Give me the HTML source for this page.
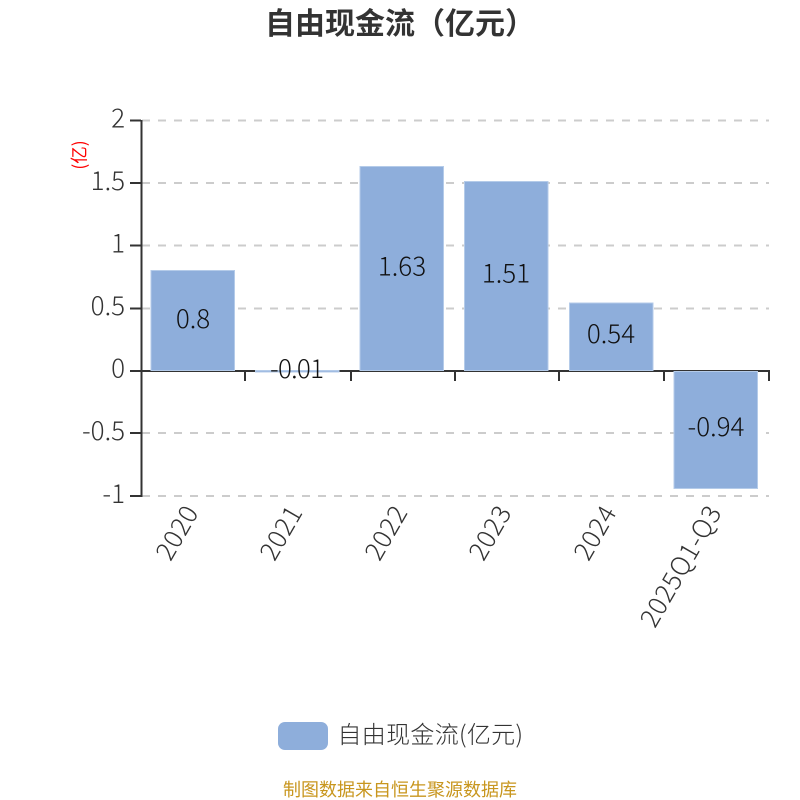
<!DOCTYPE html>
<html><head><meta charset="utf-8"><style>
html,body{margin:0;padding:0;background:#fff}
svg{display:block}
text{font-family:"Liberation Sans","Noto Sans CJK SC",sans-serif}
.n{font-family:"Noto Sans CJK SC",sans-serif;font-size:26px;fill:#333;font-weight:300}
.l{font-family:"Noto Sans CJK SC",sans-serif;font-size:26px;fill:#111;font-weight:300}
.x{letter-spacing:.6px}
</style></head><body>
<svg width="800" height="800" viewBox="0 0 800 800" xmlns="http://www.w3.org/2000/svg">
<rect width="800" height="800" fill="#fff"/>
<text x="400" y="34" text-anchor="middle" style="font-family:'Noto Sans CJK SC',sans-serif;font-size:30px;font-weight:700" fill="#333">自由现金流（亿元）</text>
<g stroke="#ccc" stroke-width="2" stroke-dasharray="8 8">
<line x1="142" x2="769" y1="120.5" y2="120.5"/>
<line x1="142" x2="769" y1="183" y2="183"/>
<line x1="142" x2="769" y1="245.5" y2="245.5"/>
<line x1="142" x2="769" y1="308.5" y2="308.5"/>
<line x1="142" x2="769" y1="433" y2="433"/>
<line x1="142" x2="769" y1="496" y2="496"/>
</g>
<g stroke="#333" stroke-width="2" fill="none">
<line x1="141.5" x2="141.5" y1="120" y2="497"/>
<line x1="130" x2="141" y1="120.5" y2="120.5"/>
<line x1="130" x2="141" y1="183" y2="183"/>
<line x1="130" x2="141" y1="245.5" y2="245.5"/>
<line x1="130" x2="141" y1="308.5" y2="308.5"/>
<line x1="130" x2="141" y1="371" y2="371"/>
<line x1="130" x2="141" y1="433" y2="433"/>
<line x1="130" x2="141" y1="496" y2="496"/>
<line x1="141" x2="770" y1="371" y2="371"/>
<line x1="245" x2="245" y1="371" y2="381"/>
<line x1="351" x2="351" y1="371" y2="381"/>
<line x1="455" x2="455" y1="371" y2="381"/>
<line x1="559" x2="559" y1="371" y2="381"/>
<line x1="664" x2="664" y1="371" y2="381"/>
<line x1="769" x2="769" y1="371" y2="381"/>
</g>
<g fill="#8eaedb" stroke="#b4cbe9" stroke-width="1">
<rect x="151" y="270.5" width="83.5" height="100"/>
<rect x="255.5" y="370.5" width="83.5" height="1.5"/>
<rect x="360" y="166.5" width="83.5" height="204"/>
<rect x="464.5" y="181.5" width="83.5" height="189"/>
<rect x="569.5" y="303" width="83.5" height="67.5"/>
<rect x="674" y="371.5" width="83.5" height="117"/>
</g>
<g text-anchor="end">
<text class="n" x="125" y="127.5">2</text>
<text class="n" x="125" y="190">1.5</text>
<text class="n" x="125" y="252.5">1</text>
<text class="n" x="125" y="315">0.5</text>
<text class="n" x="125" y="377.5">0</text>
<text class="n" x="125" y="440">-0.5</text>
<text class="n" x="125" y="503">-1</text>
</g>
<text transform="translate(85.5,155) rotate(-90)" text-anchor="middle" style="font-family:'Noto Sans CJK SC',sans-serif;font-size:17.5px" fill="#f00">(亿)</text>
<g text-anchor="middle">
<text class="l" x="193" y="328">0.8</text>
<text class="l" x="270" y="378" text-anchor="start" textLength="54" lengthAdjust="spacing">-0.01</text>
<text class="l" x="402" y="275.5">1.63</text>
<text class="l" x="506" y="282.5">1.51</text>
<text class="l" x="611" y="343">0.54</text>
<text class="l" x="716" y="436">-0.94</text>
</g>
<g text-anchor="end">
<text class="n x" transform="translate(199.5,512) rotate(-60)">2020</text>
<text class="n x" transform="translate(303.5,512) rotate(-60)">2021</text>
<text class="n x" transform="translate(408.5,512) rotate(-60)">2022</text>
<text class="n x" transform="translate(512.5,512) rotate(-60)">2023</text>
<text class="n x" transform="translate(617.5,512) rotate(-60)">2024</text>
<text class="n x" transform="translate(722.5,512) rotate(-60)">2025Q1-Q3</text>
</g>
<rect x="278" y="722" width="50" height="28" rx="7" fill="#8eaedb"/>
<text x="337.5" y="743" style="font-family:'Noto Sans CJK SC',sans-serif;font-size:24px;font-weight:300;letter-spacing:.3px" fill="#333">自由现金流(亿元)</text>
<text x="400" y="796" text-anchor="middle" style="font-family:'Noto Sans CJK SC',sans-serif;font-size:18px" fill="#c8961e">制图数据来自恒生聚源数据库</text>
</svg>
</body></html>
